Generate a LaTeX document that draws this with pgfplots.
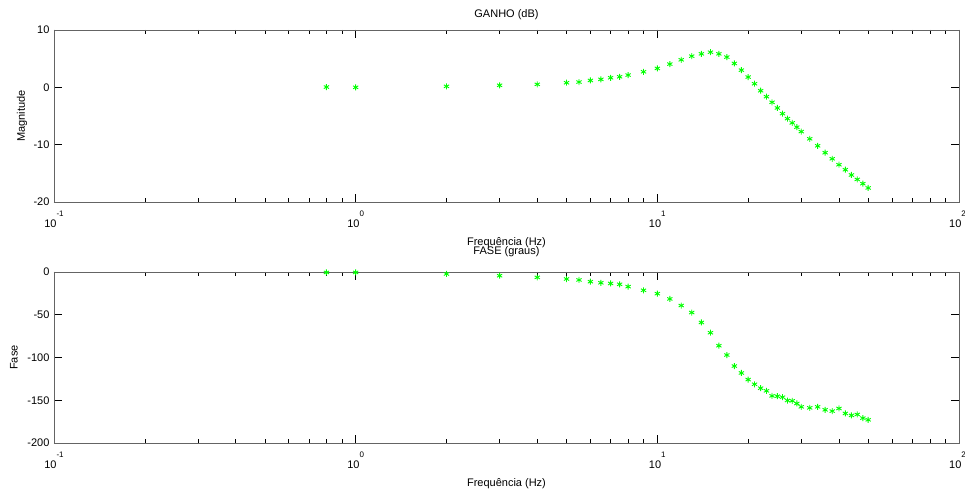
\documentclass[border=0pt]{standalone}
\usepackage{fontspec}
\setmainfont{Liberation Sans}
\usepackage{pgfplots}
\pgfplotsset{compat=1.18}
\usepackage{pgfplotstable}
\definecolor{ptgreen}{RGB}{0,255,0}
\definecolor{framegray}{RGB}{100,100,100}
\newcommand{\ex}[1]{10\raisebox{11.5pt}{\fontsize{8}{8}\selectfont #1}}
\pgfplotstableread{
f mag fase
0.8 0.05 -0.5
1 0.0 -0.5
2 0.17 -2.3
3 0.35 -4.3
4 0.52 -6.3
5 0.8 -8.2
5.5 0.92 -9.3
6 1.2 -11.3
6.5 1.39 -12.6
7 1.67 -13.4
7.5 1.84 -14.4
8 2.14 -17.1
9 2.71 -21.4
10 3.3 -25.3
11 4.05 -31.5
12 4.8 -39.2
13 5.44 -47.4
14 5.84 -59.0
15 6.13 -71.0
16 5.84 -86.2
17 5.27 -97.1
18 4.17 -110.0
19 3.0 -118.1
20 1.79 -125.8
21 0.63 -131.3
22 -0.59 -135.9
23 -1.63 -139.0
24 -2.61 -144.9
25 -3.6 -145.3
26 -4.59 -146.4
27 -5.46 -150.3
28 -6.2 -150.7
29 -6.95 -153.8
30 -7.72 -157.7
32 -8.98 -158.9
34 -10.2 -157.7
36 -11.4 -161.2
38 -12.46 -162.7
40 -13.5 -159.6
42 -14.37 -165.4
44 -15.29 -167.7
46 -16.06 -166.6
48 -16.8 -170.9
50 -17.55 -172.9
}\datatab
\pgfplotsset{
  myax/.style={
    xmin=0.1, xmax=100,
    scale only axis, width=905pt,
    anchor=south west,
    axis line style={framegray},
    tick style={black, line width=0.5pt},
    tick align=inside,
    major tick length=8pt, minor tick length=4pt,
    xtick={0.1,1,10,100},
    xticklabels={\ex{-1},\ex{0},\ex{1},\hspace*{-3pt}\ex{2}},
    every tick label/.append style={font=\fontsize{11}{13}\selectfont},
    /pgf/number format/assume math mode=true,
    label style={font=\fontsize{11}{13}\selectfont},
    every axis title/.style={font=\fontsize{11}{13}\selectfont, at={(0.5,1)}, anchor=center},
    xlabel style={at={(axis description cs:0.5,0)}, anchor=center, yshift=-40.5pt},
    xlabel={Frequência (Hz)},
    xticklabel style={yshift=-5pt},
    yticklabel style={xshift=-1pt},
  }
}
\begin{document}
\begin{tikzpicture}[x=1pt,y=1pt]
\useasboundingbox (0,0) rectangle (965,492);
\begin{semilogxaxis}[myax, at={(54pt,290pt)}, height=172pt,
  ymin=-20, ymax=10, ytick={-20,-10,0,10},
  title={GANHO (dB)},
  title style={yshift=15pt},
  ylabel={Magnitude},
  ylabel style={at={(axis description cs:-0.0354,0.5)}, anchor=center}]
\addplot[only marks, mark=asterisk, mark size=3pt, line width=0.9pt, color=ptgreen] table[x=f,y=mag] {\datatab};
\end{semilogxaxis}
\begin{semilogxaxis}[myax, at={(54pt,49pt)}, height=171pt,
  ymin=-200, ymax=0, ytick={-200,-150,-100,-50,0},
  title={FASE (graus)},
  title style={yshift=20pt},
  ylabel={Fase},
  ylabel style={at={(axis description cs:-0.0442,0.5)}, anchor=center}]
\addplot[only marks, mark=asterisk, mark size=3pt, line width=0.9pt, color=ptgreen] table[x=f,y=fase] {\datatab};
\end{semilogxaxis}
\end{tikzpicture}
\end{document}
